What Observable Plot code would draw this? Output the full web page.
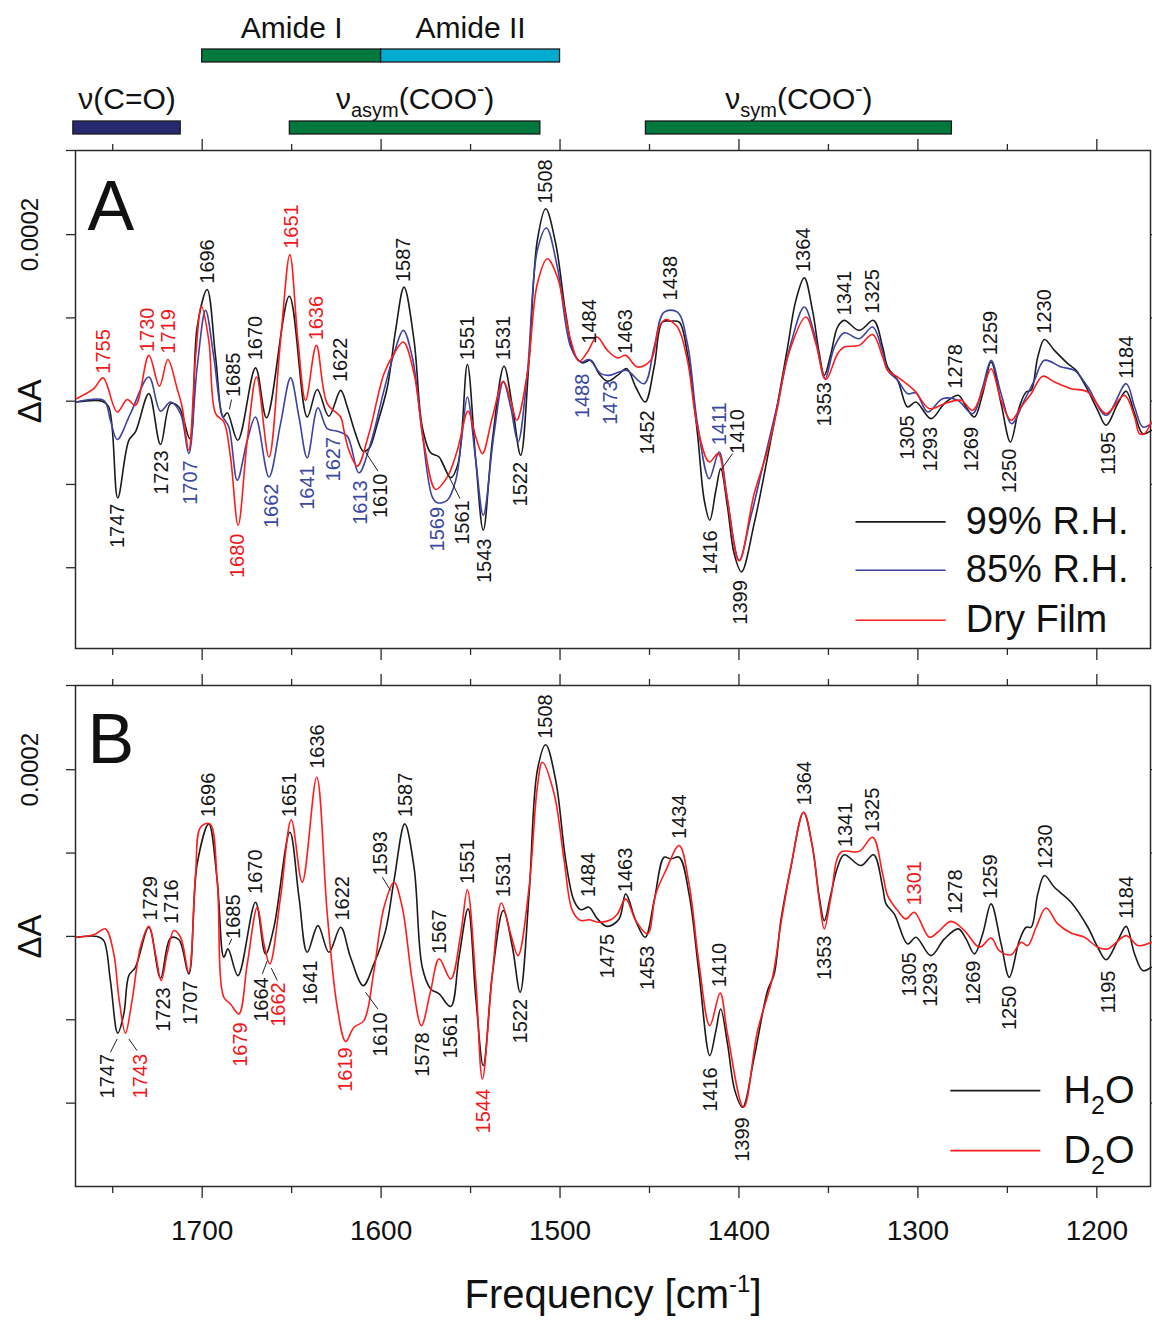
<!DOCTYPE html>
<html>
<head>
<meta charset="utf-8">
<script src="https://cdn.jsdelivr.net/npm/d3@7"></script>
<script src="https://cdn.jsdelivr.net/npm/@observablehq/plot@0.6"></script>
<style>
  body { margin: 0; background: #fff; }
  #chart { width: 1152px; }
  #chart svg { display: block; }
</style>
</head>
<body>
<div id="chart"></div>
<script>
// ---------------- DATA (ΔA in units of 1e-4, x = wavenumber cm^-1) ----------------
const spec99RH = [[1770.3,-0.01],[1755.9,0],[1752.2,-0.07],[1747.2,-1.16],[1741,-0.47],[1737.3,-0.37],[1729.8,0.09],[1723.3,-0.52],[1717.7,-0.03],[1713,-0.07],[1706.9,-0.45],[1702.8,0.89],[1697.2,1.34],[1692.5,0.53],[1688.3,-0.19],[1686,-0.14],[1680.1,-0.47],[1670.2,0.40],[1664,-0.20],[1651.3,1.26],[1641.3,-0.19],[1635.7,0.14],[1629.2,-0.18],[1622.6,0.13],[1618.9,-0.07],[1614.3,-0.39],[1610,-0.60],[1606.8,-0.57],[1602.1,-0.27],[1596.5,0.17],[1591.9,0.85],[1587.2,1.37],[1581.6,0.73],[1577,-0.31],[1572.3,-0.62],[1567.6,-0.67],[1561.1,-0.92],[1557,-0.75],[1551.8,0.44],[1547.1,-0.71],[1542.9,-1.55],[1537.8,-0.47],[1531.3,0.42],[1526.6,-0.07],[1522,-0.65],[1517.3,0.49],[1512.7,1.93],[1508,2.31],[1502.4,1.89],[1496.8,1.05],[1492.2,0.57],[1487.5,0.46],[1482.8,0.49],[1478.2,0.33],[1473.5,0.24],[1467.9,0.31],[1462.7,0.39],[1457.7,0.17],[1452.4,-0.01],[1447.4,0.41],[1442.8,0.95],[1438.1,0.96],[1433.4,0.95],[1428.8,0.57],[1423.2,-0.39],[1419.4,-1.19],[1416.3,-1.43],[1412.9,-1.07],[1410.2,-0.81],[1406.4,-1.27],[1402.7,-1.83],[1398.6,-2.05],[1391.5,-1.47],[1384,-0.67],[1378.4,-0.03],[1372.8,0.65],[1368.2,1.21],[1363.5,1.48],[1358.9,1.09],[1355.1,0.57],[1352.3,0.31],[1348.6,0.57],[1344.9,0.89],[1341.2,0.97],[1332.8,0.85],[1324.8,0.97],[1319.7,0.65],[1316.9,0.41],[1311.3,0.25],[1305.7,-0.07],[1301.1,-0.01],[1292.7,-0.21],[1285.2,-0.03],[1277.4,0.07],[1273.1,-0.07],[1268.4,-0.19],[1263.8,0.09],[1259.1,0.47],[1253.5,-0.03],[1248.3,-0.49],[1243.3,-0.07],[1239.5,0.11],[1236.7,0.13],[1233,0.53],[1229.3,0.74],[1223.7,0.61],[1216.2,0.45],[1211.6,0.37],[1205,0.13],[1199.5,-0.11],[1194.8,-0.29],[1188.3,-0.03],[1183.6,0.12],[1178.9,-0.15],[1174.3,-0.39],[1169.6,-0.35]];

const spec85RH = [[1770.3,-0.01],[1755,0.01],[1751.3,-0.23],[1747.5,-0.46],[1740.1,-0.15],[1729.8,0.29],[1723.3,-0.12],[1717.7,-0.01],[1712.1,-0.15],[1707.5,-0.63],[1702.8,0.41],[1698.1,1.09],[1693.5,0.53],[1688.8,-0.17],[1685.1,-0.31],[1680.4,-0.95],[1674.8,-0.47],[1670.2,-0.19],[1662.7,-0.91],[1656.2,-0.27],[1650.6,0.28],[1645.9,-0.19],[1641.3,-0.68],[1635.3,-0.08],[1630.1,-0.33],[1624.5,-0.36],[1618.9,-0.42],[1612.4,-0.86],[1605.9,-0.51],[1598.4,0.13],[1592.8,0.57],[1587.6,0.85],[1582.6,0.53],[1577,-0.39],[1571.4,-1.15],[1568.6,-1.22],[1563,-1.19],[1558.3,-0.95],[1555,-0.45],[1551.8,0.05],[1547.1,-0.71],[1542.9,-1.37],[1536.9,-0.39],[1531.7,0.23],[1527.6,-0.07],[1523.5,-0.49],[1518.3,0.33],[1512.7,1.81],[1507.6,2.08],[1501.5,1.61],[1494,0.65],[1488.4,0.47],[1483.8,0.50],[1477.2,0.33],[1472.6,0.31],[1467,0.35],[1462.7,0.37],[1453,0.21],[1447.4,0.65],[1441.8,1.07],[1434.4,1.07],[1428.8,0.69],[1423.2,-0.27],[1416.6,-0.93],[1411.1,-0.61],[1406.4,-1.19],[1399.9,-1.91],[1393.4,-1.39],[1385.9,-0.71],[1378.4,-0.03],[1371,0.69],[1363.5,1.13],[1357.9,0.81],[1351.9,0.27],[1346.7,0.65],[1341.2,0.82],[1332.8,0.75],[1325.3,0.89],[1319.7,0.59],[1316.9,0.37],[1311.3,0.25],[1305.7,0.09],[1301.1,0.10],[1294.5,-0.13],[1286.2,0.03],[1277.8,0.01],[1269.4,-0.15],[1263.8,0.17],[1259.1,0.49],[1253.5,0.09],[1247.6,-0.27],[1240.5,0.01],[1234.9,0.25],[1229.3,0.49],[1219.9,0.41],[1212.5,0.37],[1205,0.17],[1194.8,-0.17],[1183.6,0.21],[1178.9,-0.07],[1174.3,-0.31],[1169.6,-0.27]];

const specDryFilm = [[1770.3,0.03],[1760.6,0.15],[1755.4,0.28],[1747.5,-0.13],[1741.9,0.02],[1737.3,-0.05],[1729.8,0.55],[1723.9,0.18],[1719.2,0.50],[1714,0.15],[1711.2,-0.07],[1707.5,-0.59],[1703.7,0.53],[1700.4,1.14],[1696.3,0.73],[1692.5,-0.15],[1687.9,-0.25],[1684.2,-0.67],[1679.9,-1.49],[1674.8,-0.47],[1669.6,0.29],[1662.7,-0.67],[1656.2,0.73],[1651,1.76],[1646.5,0.73],[1642.2,0.01],[1636.2,0.67],[1630.1,-0.03],[1622.6,-0.19],[1620.8,-0.35],[1618,-0.59],[1613.3,-0.78],[1606.8,-0.39],[1598.4,0.33],[1592.8,0.57],[1587.6,0.71],[1581.6,0.33],[1576,-0.51],[1569.5,-1.06],[1563,-0.91],[1557.4,-0.59],[1551.4,-0.12],[1547.1,-0.43],[1543.4,-0.63],[1537.8,-0.19],[1531.7,0.24],[1527.6,0.01],[1524.2,-0.23],[1518.3,0.33],[1512.7,1.41],[1507.1,1.71],[1501.5,1.49],[1494,0.73],[1489.3,0.48],[1484.7,0.59],[1479.4,0.77],[1473.5,0.61],[1467.9,0.52],[1463.3,0.55],[1456.7,0.41],[1449.3,0.49],[1444.6,0.89],[1440.9,0.98],[1434.4,0.89],[1428.8,0.49],[1423.2,-0.31],[1416.6,-0.73],[1411.6,-0.63],[1407.3,-1.07],[1399.9,-1.92],[1391.5,-1.11],[1384,-0.59],[1378.4,-0.07],[1372.8,0.53],[1362.6,1.01],[1357,0.69],[1351.4,0.26],[1344.9,0.57],[1341.2,0.65],[1332.8,0.67],[1325.3,0.80],[1319.7,0.53],[1316.9,0.37],[1311.3,0.29],[1302,0.13],[1293.6,-0.09],[1285.2,-0.03],[1275.9,0.01],[1269.4,-0.11],[1263.8,0.13],[1259.1,0.39],[1253.5,0.01],[1247.9,-0.23],[1242.3,-0.07],[1236.7,0.09],[1230.2,0.30],[1223.7,0.23],[1214.4,0.15],[1205,0.11],[1194.8,-0.15],[1184.6,0.07],[1178.9,-0.19],[1176.2,-0.39],[1173.4,-0.39],[1169.6,-0.25]];

const specH2O = [[1770.3,-0.01],[1758.7,0],[1755,-0.05],[1751.3,-0.53],[1747.2,-1.16],[1743.8,-0.93],[1741,-0.47],[1737.3,-0.37],[1729.8,0.11],[1723.3,-0.50],[1717.7,-0.02],[1713,-0.04],[1707.5,-0.45],[1702.8,0.87],[1696.3,1.35],[1691.6,0.67],[1687.9,-0.25],[1685.6,-0.15],[1680,-0.47],[1670.2,0.41],[1664.6,-0.21],[1659.9,0.11],[1651,1.25],[1645.9,0.47],[1641.3,-0.19],[1635.3,0.13],[1629.2,-0.19],[1622.6,0.11],[1617.1,-0.25],[1610,-0.59],[1604,-0.33],[1597.5,0.07],[1592.8,0.67],[1586.8,1.35],[1581.6,0.83],[1577,-0.37],[1572.3,-0.63],[1567.6,-0.69],[1561.1,-0.84],[1556.5,-0.25],[1551.4,0.33],[1547.1,-0.73],[1542.9,-1.55],[1537.8,-0.45],[1531.7,0.31],[1526.6,-0.13],[1522.3,-0.67],[1517.3,0.51],[1512.7,1.99],[1508,2.30],[1502.4,1.87],[1496.8,0.91],[1492.2,0.43],[1488.4,0.32],[1483.8,0.35],[1479.1,0.21],[1473.5,0.12],[1467,0.21],[1463.3,0.51],[1457.7,0.19],[1452.4,-0.01],[1447.4,0.43],[1441.8,0.95],[1438.1,0.93],[1433.4,0.95],[1427.9,0.51],[1422.3,-0.45],[1416.3,-1.43],[1412.9,-1.13],[1410.2,-0.87],[1406.4,-1.29],[1402.3,-1.85],[1398,-2.05],[1391.5,-1.45],[1384,-0.65],[1380.3,-0.45],[1376.6,0.19],[1371,0.83],[1363.9,1.49],[1358.9,1.07],[1355.1,0.47],[1352.3,0.19],[1348.6,0.51],[1344.9,0.83],[1341.2,0.98],[1331.8,0.85],[1324.8,0.98],[1319.7,0.59],[1317.8,0.39],[1313.2,0.27],[1305.7,-0.09],[1301.1,-0.01],[1292.7,-0.23],[1285.2,-0.03],[1277.4,0.09],[1273.1,-0.03],[1268.4,-0.21],[1263.8,0.03],[1259.1,0.39],[1253.5,-0.09],[1248.9,-0.49],[1243.3,-0.05],[1239.5,0.11],[1236.7,0.11],[1233,0.51],[1229.3,0.73],[1223.7,0.59],[1214.4,0.41],[1205,0.11],[1199.5,-0.13],[1194.8,-0.28],[1188.3,-0.05],[1183.6,0.12],[1178.9,-0.21],[1174.3,-0.41],[1169.6,-0.37]];

const specD2O = [[1770.3,-0.01],[1760.6,0.02],[1754.1,0.09],[1749.4,-0.21],[1746.6,-0.73],[1742.9,-1.16],[1739.2,-0.77],[1734.5,-0.13],[1729.8,0.12],[1726.1,-0.21],[1722.9,-0.53],[1719.6,-0.21],[1715.8,0.07],[1712.1,-0.01],[1707.5,-0.43],[1703.7,0.75],[1700.9,1.31],[1695.7,1.35],[1691.6,0.67],[1687.9,-0.73],[1684.2,-0.81],[1679.5,-0.93],[1674.8,-0.33],[1669.2,0.35],[1665.5,-0.09],[1662.2,-0.33],[1656.2,0.47],[1650.2,1.40],[1644.1,0.65],[1636,1.91],[1630.1,0.27],[1624.5,-0.85],[1619.8,-1.26],[1615.2,-1.09],[1609.6,-1.01],[1604,-0.41],[1598.4,0.35],[1592.8,0.65],[1588.2,0.35],[1582.6,-0.53],[1577.5,-1.07],[1572.3,-0.65],[1567.6,-0.27],[1561.1,-0.51],[1555.5,0.03],[1551.8,0.56],[1547.1,-0.53],[1543.4,-1.71],[1537.8,-0.45],[1532.8,0.40],[1527.6,0.03],[1523.5,-0.23],[1517.3,0.59],[1512.7,1.79],[1509.9,2.09],[1503.3,1.71],[1497.7,0.91],[1493.1,0.31],[1488.4,0.19],[1483.8,0.20],[1478.2,0.17],[1471.6,0.20],[1467.9,0.27],[1463.3,0.45],[1457.7,0.19],[1451.1,0.03],[1446.5,0.51],[1440.9,0.79],[1433.4,1.09],[1427.9,0.63],[1422.3,-0.33],[1416.3,-1.07],[1410.5,-0.68],[1406.4,-1.17],[1397.4,-2.05],[1389.6,-1.13],[1381.2,-0.49],[1376.6,0.15],[1371,0.83],[1363.9,1.49],[1358.9,1.07],[1355.1,0.43],[1352.3,0.09],[1348.6,0.47],[1343,1.01],[1332.8,1.02],[1325.3,1.19],[1319.7,0.75],[1316.9,0.49],[1311.3,0.31],[1306.7,0.21],[1302,0.29],[1293.6,-0.01],[1288.9,0.05],[1281.5,0.18],[1274,0.07],[1265.6,-0.13],[1259.1,-0.02],[1254.5,-0.17],[1247.9,-0.22],[1242.3,-0.07],[1238.6,-0.11],[1233.9,0.11],[1228.4,0.34],[1221.8,0.15],[1214.4,0.04],[1206.9,-0.01],[1199.5,-0.13],[1193.9,-0.15],[1183.6,0.01],[1177.1,-0.11],[1169.6,-0.07]];

// Peak annotations: [text, wavenumber position, ΔA position, side, series key]
const peaksA = [["1755",1755,0.33,"up","r"],["1730",1730.5,0.59,"up","r"],["1719",1719,0.57,"up","r"],["1747",1747,-1.23,"down","k"],["1723",1722.5,-0.59,"down","k"],["1707",1706.2,-0.71,"down","b"],["1696",1697,1.41,"up","k"],["1685",1682.5,0.05,"up","k"],["1670",1670,0.49,"up","k"],["1680",1680,-1.59,"down","r"],["1662",1661.4,-0.99,"down","b"],["1651",1650.3,1.83,"up","r"],["1636",1636,0.73,"up","r"],["1622",1622.6,0.23,"up","k"],["1641",1641.3,-0.77,"down","b"],["1627",1626.7,-0.43,"down","b"],["1613",1611.5,-0.95,"down","b"],["1610",1600.3,-0.87,"down","k"],["1587",1587.2,1.43,"up","k"],["1569",1568.6,-1.27,"down","b"],["1561",1554.6,-1.19,"down","k"],["1551",1551.8,0.49,"up","k"],["1543",1542.2,-1.65,"down","k"],["1531",1531.3,0.49,"up","k"],["1522",1522,-0.73,"down","k"],["1508",1508,2.37,"up","k"],["1488",1487.5,0.33,"down","b"],["1484",1483.5,0.69,"up","k"],["1473",1471.6,0.25,"down","b"],["1463",1463.3,0.57,"up","k"],["1452",1451,-0.11,"down","k"],["1438",1438,1.21,"up","k"],["1411",1411.1,-0.53,"up","b"],["1410",1400.8,-0.63,"up","k"],["1416",1416,-1.55,"down","k"],["1399",1399,-2.15,"down","k"],["1364",1364,1.55,"up","k"],["1353",1352.3,0.23,"down","k"],["1341",1341.2,1.03,"up","k"],["1325",1325.3,1.05,"up","k"],["1305",1305.7,-0.17,"down","k"],["1293",1293,-0.31,"down","k"],["1278",1279.2,0.15,"up","k"],["1259",1259.1,0.55,"up","k"],["1269",1270,-0.31,"down","k"],["1250",1248.9,-0.57,"down","k"],["1230",1229,0.81,"up","k"],["1195",1193.3,-0.37,"down","k"],["1184",1183.6,0.27,"up","k"]];

const peaksB = [["1747",1753.1,-1.41,"down","k"],["1743",1734.5,-1.41,"down","r"],["1729",1729,0.19,"up","k"],["1716",1717.3,0.15,"up","k"],["1723",1721.4,-0.61,"down","k"],["1707",1706.5,-0.53,"down","k"],["1696",1696.3,1.43,"up","k"],["1685",1682.3,-0.03,"up","k"],["1670",1670,0.51,"up","k"],["1679",1678.6,-1.03,"down","r"],["1664",1666.8,-0.49,"down","k"],["1662",1657.1,-0.55,"down","r"],["1651",1651,1.43,"up","k"],["1636",1635.7,2.01,"up","k"],["1641",1639.4,-0.29,"down","k"],["1622",1621.7,0.19,"up","k"],["1619",1619.9,-1.33,"down","r"],["1610",1600.3,-0.91,"down","k"],["1593",1600.3,0.73,"up","k"],["1587",1586.3,1.43,"up","k"],["1567",1567.1,-0.21,"up","k"],["1578",1577,-1.15,"down","k"],["1561",1561.1,-0.93,"down","k"],["1551",1551.4,0.63,"up","k"],["1544",1542.5,-1.83,"down","r"],["1531",1531.3,0.47,"up","k"],["1522",1522,-0.75,"down","k"],["1508",1508,2.37,"up","k"],["1484",1483.8,0.47,"up","k"],["1475",1473.5,0.03,"down","k"],["1463",1463.3,0.53,"up","k"],["1453",1451.1,-0.11,"down","k"],["1434",1433.4,1.17,"up","k"],["1410",1411,-0.61,"up","k"],["1416",1416,-1.57,"down","k"],["1399",1398,-2.17,"down","k"],["1364",1363.5,1.57,"up","k"],["1353",1352.3,0.01,"down","k"],["1341",1340.2,1.07,"up","k"],["1325",1325.3,1.25,"up","k"],["1305",1304.8,-0.19,"down","k"],["1293",1293,-0.31,"down","k"],["1301",1302,0.37,"up","r"],["1278",1279.2,0.27,"up","k"],["1259",1259.1,0.45,"up","k"],["1269",1268.8,-0.29,"down","k"],["1250",1248.9,-0.59,"down","k"],["1230",1228.7,0.81,"up","k"],["1195",1193.3,-0.41,"down","k"],["1184",1183.2,0.21,"up","k"]];

// Leader lines: [x1, y1, x2, y2]
const leadersA = [[1684.8,-0.10,1683.6,0.02],[1608.7,-0.61,1601.8,-0.84],[1566.7,-0.71,1555.9,-1.17],[1410.2,-0.83,1403.6,-0.63]];
const leadersB = [[1751.3,-1.39,1747.5,-1.23],[1741,-1.23,1736.4,-1.37],[1685,-0.10,1683.5,-0.03],[1663.6,-0.29,1666.4,-0.45],[1661.4,-0.38,1658,-0.53],[1608.7,-0.67,1601.8,-0.87],[1594.7,0.55,1599.3,0.71]];

// Assignment bands (header)
const bandName = ["ν(C=O)", "Amide I", "Amide II", "νasym(COO-)", "νsym(COO-)"];
const bandFrom = [1772, 1700, 1600, 1651, 1452];
const bandTo   = [1712, 1600, 1500, 1511, 1281];
const bandRow  = [2, 1, 1, 2, 2];

const xTicksMajor = [1700, 1600, 1500, 1400, 1300, 1200];
const xTicksMinor = [1750, 1650, 1550, 1450, 1350, 1250];
const yTicks = [-2, -1, 0, 1, 2];
const legendA = ["99% R.H.", "85% R.H.", "Dry Film"];
const legendB = ["H2O", "D2O"];

// ---------------- STYLE / LAYOUT ----------------
const FONT = "'Liberation Sans', Arial, Helvetica, sans-serif";
const W = 1152, ML = 75, MR = 2;
const X_DOMAIN = [1770.8, 1170];
const AX = "#2a2a2a";
const COL = {k: "#1b1b1b", b: "#3d429e", r: "#ff1c1c"};
const LABCOL = {k: "#151515", b: "#3a47a3", r: "#f2171b"};
const BAND_FILL = ["#272a70", "#00783e", "#00abcf", "#00783e", "#00783e"];
const ROW_TOP = {1: 49, 2: 121}, ROW_BASE = {1: 37, 2: 108}, BAR_H = 13;

const RICH = {
  "νasym(COO-)": [{t:"ν"},{t:"asym",size:20,shift:8},{t:"(COO",shift:0},{t:"-",size:22,shift:-13},{t:")",shift:0}],
  "νsym(COO-)":  [{t:"ν"},{t:"sym",size:20,shift:8},{t:"(COO",shift:0},{t:"-",size:22,shift:-13},{t:")",shift:0}],
  "H2O": [{t:"H"},{t:"2",size:25,shift:11},{t:"O",shift:0}],
  "D2O": [{t:"D"},{t:"2",size:25,shift:11},{t:"O",shift:0}],
  "Frequency [cm-1]": [{t:"Frequency [cm"},{t:"-1",size:24,shift:-16},{t:"]",shift:0}]
};
function richify(svg) {
  d3.select(svg).selectAll("text").each(function () {
    const parts = RICH[this.textContent];
    if (!parts) return;
    const t = d3.select(this);
    t.text(null);
    let cur = 0;
    for (const p of parts) {
      const ts = t.append("tspan").text(p.t);
      const s = p.shift || 0;
      if (s !== cur) { ts.attr("dy", s - cur); cur = s; }
      if (p.size) ts.attr("font-size", p.size);
    }
  });
}

const baseStyle = {fontFamily: FONT, color: "#111", background: "white", overflow: "visible"};
const chart = document.getElementById("chart");

// ---------------- HEADER ----------------
const bands = bandName.map((name, i) => ({name, from: bandFrom[i], to: bandTo[i], row: bandRow[i], fill: BAND_FILL[i]}));
const header = Plot.plot({
  width: W, height: 135, marginLeft: ML, marginRight: MR, marginTop: 0, marginBottom: 0,
  x: {domain: X_DOMAIN, axis: null},
  y: {type: "identity", axis: null},
  color: {type: "identity"},
  style: baseStyle,
  marks: [
    Plot.rect(bands, {x1: "from", x2: "to", y1: d => ROW_TOP[d.row], y2: d => ROW_TOP[d.row] + BAR_H, fill: "fill", stroke: "#1c1c1c", strokeWidth: 1.3}),
    Plot.text(bands, {x: d => (d.from + d.to) / 2, y: d => ROW_BASE[d.row], text: "name", fontSize: 30, lineAnchor: "bottom", fill: "#111"})
  ]
});
richify(header);
chart.appendChild(header);

// ---------------- PANELS ----------------
function panel(cfg) {
  const labs = cfg.peaks.map(([t, x, y, side, c]) => ({t, x, y, side, c}));
  const leads = cfg.leaders.map(([x1, y1, x2, y2]) => ({x1, y1, x2, y2}));
  const noText = () => "";
  const marks = [
    Plot.frame({stroke: AX, strokeWidth: 1.5}),
    Plot.axisX({anchor: "top", ticks: xTicksMajor, tickSize: 12, tickFormat: noText, label: null, stroke: AX, strokeWidth: 1.3}),
    Plot.axisX({anchor: "top", ticks: xTicksMinor, tickSize: 7, tickFormat: noText, label: null, stroke: AX, strokeWidth: 1.3}),
    Plot.axisX({anchor: "bottom", ticks: xTicksMajor, tickSize: 12, tickPadding: 22, fontSize: 28,
      tickFormat: cfg.tickLabels ? d => String(d) : noText, label: null, stroke: AX, strokeWidth: 1.3}),
    Plot.axisX({anchor: "bottom", ticks: xTicksMinor, tickSize: 7, tickFormat: noText, label: null, stroke: AX, strokeWidth: 1.3}),
    Plot.axisY({anchor: "left", ticks: [...yTicks, cfg.domain[1]], tickSize: 9, tickFormat: noText, label: null, stroke: AX, strokeWidth: 1.3}),
    Plot.axisY({anchor: "right", ticks: yTicks, tickSize: 3, tickFormat: noText, label: null, stroke: AX, strokeWidth: 1.3}),
    ...cfg.series.map(s => Plot.line(s.data.map(([w, v]) => ({w, v})), {x: "w", y: "v", stroke: s.color, strokeWidth: 1.6, curve: "catmull-rom"})),
    Plot.link(leads, {x1: "x1", y1: "y1", x2: "x2", y2: "y2", stroke: "#222", strokeWidth: 1}),
    Plot.text(labs.filter(d => d.side === "up"), {x: "x", y: "y", text: "t", rotate: -90, textAnchor: "start", fontSize: 20, fill: d => LABCOL[d.c]}),
    Plot.text(labs.filter(d => d.side === "down"), {x: "x", y: "y", text: "t", rotate: -90, textAnchor: "end", fontSize: 20, fill: d => LABCOL[d.c]}),
    Plot.ruleY(cfg.legend, {y: "y", x1: () => cfg.legendLine[0], x2: () => cfg.legendLine[1], stroke: "color", strokeWidth: 1.6}),
    Plot.text(cfg.legend, {x: () => cfg.legendText, y: "y", text: "name", textAnchor: "start", fontSize: 38, fill: "#111"}),
    Plot.text([cfg.letter], {frameAnchor: "top-left", text: d => d, dx: 12, dy: cfg.letterDy, fontSize: 70, textAnchor: "start", lineAnchor: "top", fill: "#111"}),
    Plot.text([{t: "ΔA", v: 0}], {y: "v", text: "t", frameAnchor: "left", dx: -45, rotate: -90, textAnchor: "middle", fontSize: 33, fill: "#111"}),
    Plot.text([{t: "0.0002", v: 2}], {y: "v", text: "t", frameAnchor: "left", dx: -45, rotate: -90, textAnchor: "middle", fontSize: 24, fill: "#111"})
  ];
  if (cfg.xLabel) marks.push(Plot.text([cfg.xLabel], {frameAnchor: "bottom", text: d => d, dy: 121, lineAnchor: "bottom", fontSize: 40, fill: "#111"}));
  const p = Plot.plot({
    width: W, height: cfg.height, marginLeft: ML, marginRight: MR, marginTop: cfg.marginTop, marginBottom: cfg.marginBottom,
    x: {domain: X_DOMAIN, axis: null},
    y: {domain: cfg.domain, axis: null},
    color: {type: "identity"},
    style: baseStyle,
    marks
  });
  richify(p);
  return p;
}

const panelA = panel({
  height: 532, marginTop: 15, marginBottom: 19, domain: [-2.97, 3.01],
  series: [{data: spec99RH, color: COL.k}, {data: spec85RH, color: COL.b}, {data: specDryFilm, color: COL.r}],
  peaks: peaksA, leaders: leadersA, letter: "A", letterDy: 30,
  legend: legendA.map((name, i) => ({name, y: [-1.45, -2.03, -2.63][i], color: [COL.k, COL.b, COL.r][i]})),
  legendLine: [1334.6, 1284.2], legendText: 1273.2,
  tickLabels: false
});
chart.appendChild(panelA);

const panelB = panel({
  height: 654, marginTop: 18, marginBottom: 135, domain: [-3.0, 3.01],
  series: [{data: specH2O, color: COL.k}, {data: specD2O, color: COL.r}],
  peaks: peaksB, leaders: leadersB, letter: "B", letterDy: 28,
  legend: legendB.map((name, i) => ({name, y: [-1.85, -2.57][i], color: [COL.k, COL.r][i]})),
  legendLine: [1281.6, 1231.3], legendText: 1218.6,
  tickLabels: true, xLabel: "Frequency [cm-1]"
});
chart.appendChild(panelB);
</script>
</body>
</html>
